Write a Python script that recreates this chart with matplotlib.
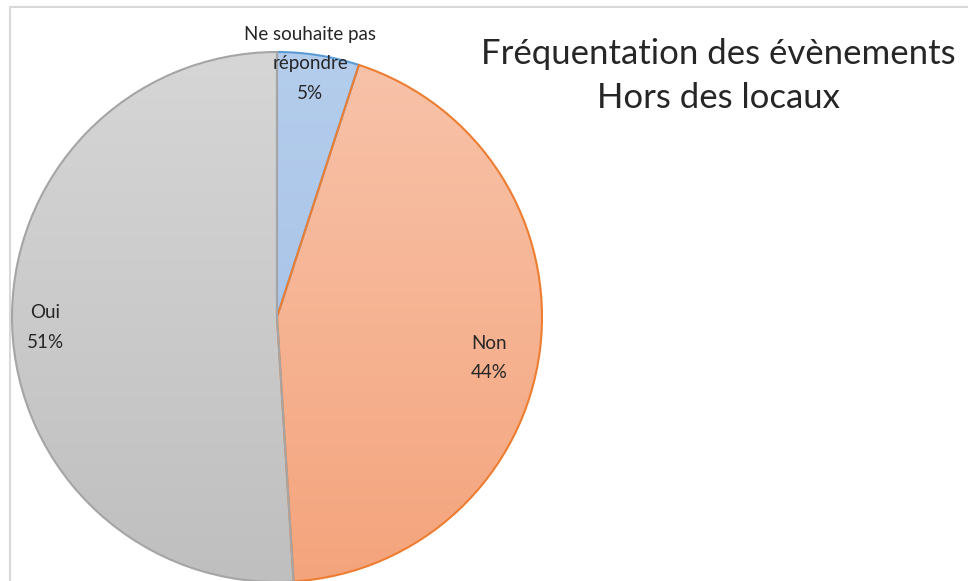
import numpy as np
import matplotlib
matplotlib.use("Agg")
import matplotlib.pyplot as plt
from matplotlib.patches import Rectangle
from matplotlib.colors import LinearSegmentedColormap

# données
labels = ["Ne souhaite pas\nrépondre", "Non", "Oui"]
values = [5, 44, 51]
fill_top = ["#b4cdec", "#f8c3aa", "#d6d6d6"]
fill_bottom = ["#a2bee6", "#f4a47c", "#bfbfbf"]
edges = ["#5b9bd5", "#ed7d31", "#a5a5a5"]
# position des étiquettes, en fraction du rayon
label_pos = [(0.125, 0.955), (0.80, -0.155), (-0.875, -0.04)]
title = "Fréquentation des évènements\nHors des locaux"

plt.rcParams['font.family'] = ['Lato', 'DejaVu Sans']

fig = plt.figure(figsize=(9.68, 5.81), dpi=100)
ax = fig.add_axes([0, 0, 1, 1])

# cadre du graphique
ax.add_patch(Rectangle((10, -20), 980, 594, fill=False, ec="#d9d9d9", lw=1.5))

cx, cy, r = 277, 264, 265
wedges, _ = ax.pie(values, startangle=90, counterclock=False, center=(cx, cy),
                   radius=r, frame=True,
                   wedgeprops=dict(linewidth=1.5))
ax.set_xlim(0, 968)
ax.set_ylim(0, 581)
ax.set_aspect('equal')
ax.axis('off')

grad = np.linspace(0, 1, 256).reshape(-1, 1)
for w, c0, c1, ec in zip(wedges, fill_top, fill_bottom, edges):
    w.set_facecolor("none")
    w.set_edgecolor(ec)
    w.set_zorder(3)
    cmap = LinearSegmentedColormap.from_list("g", [c1, c0])
    im = ax.imshow(grad, cmap=cmap, origin='lower', aspect='auto',
                   extent=(cx - r, cx + r, cy - r, cy + r), zorder=2)
    im.set_clip_path(w)

for lab, v, (px, py) in zip(labels, values, label_pos):
    ax.text(cx + px * r, cy + py * r, f"{lab}\n{v}%", ha='center', va='center',
            fontsize=13.5, color="#262626", linespacing=1.9, zorder=5)

ax.text(718, 505, title, ha='center', va='center', fontsize=25,
        color="#262626", linespacing=1.5)

fig.savefig("out.png", dpi=100)
